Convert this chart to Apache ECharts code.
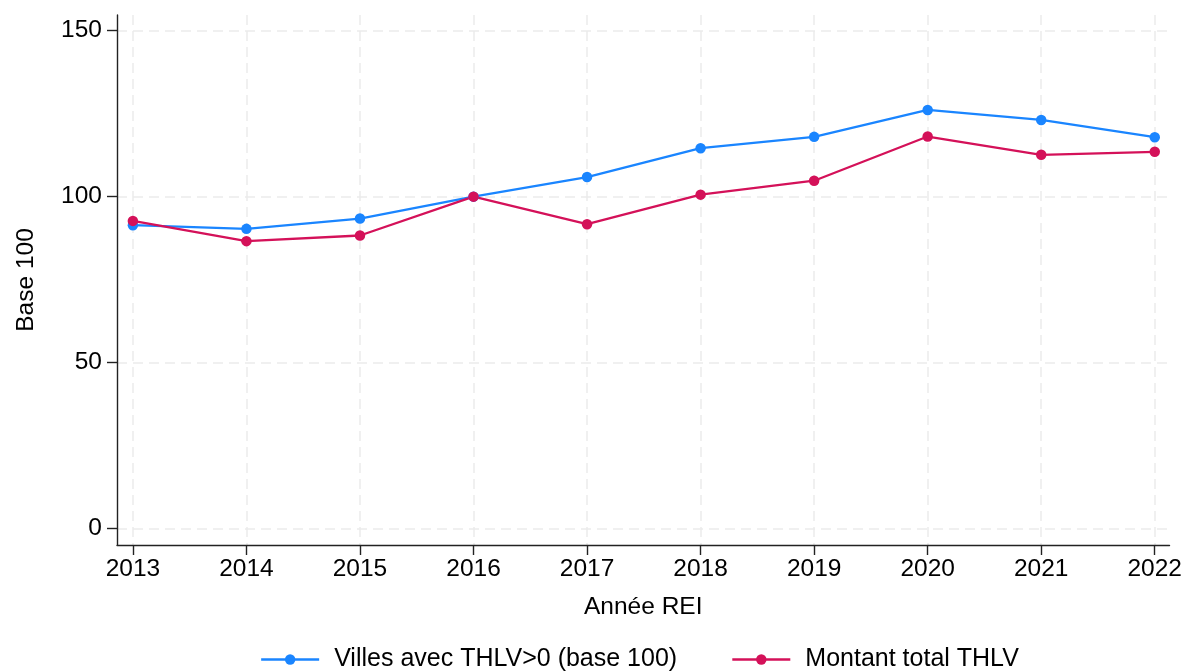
<!DOCTYPE html>
<html>
<head>
<meta charset="utf-8">
<script src="https://cdn.jsdelivr.net/npm/echarts@6/dist/echarts.min.js"></script>
<style>
  html, body { margin: 0; padding: 0; background: #fff; }
  #chart { width: 1185px; height: 672px; }
</style>
</head>
<body>
<div id="chart"></div>
<script>
// données
const years = [2013, 2014, 2015, 2016, 2017, 2018, 2019, 2020, 2021, 2022];
const villes = [91.4, 90.3, 93.4, 100, 105.9, 114.6, 118.0, 126.1, 123.1, 117.9];
const montant = [92.7, 86.6, 88.3, 100, 91.7, 100.6, 104.8, 118.1, 112.6, 113.5];
const yTicks = [0, 50, 100, 150];

const blue = '#1a85ff';
const red = '#d41159';
const font = 'Liberation Sans, Arial, sans-serif';

const gridLine = {
  show: true,
  lineStyle: { color: '#ebebeb', width: 1.5, type: [10, 6] },
};

const chart = echarts.init(document.getElementById('chart'));
chart.setOption({
  animation: false,
  textStyle: { fontFamily: font },
  grid: { left: 117, right: 15, top: 15, bottom: 127, containLabel: false },
  xAxis: {
    type: 'value',
    min: 2012.86,
    max: 2022.13,
    name: 'Année REI',
    nameLocation: 'middle',
    nameGap: 50,
    nameTextStyle: { fontSize: 24.5, color: '#000', fontFamily: font },
    axisLine: { show: true, onZero: false, lineStyle: { color: '#222', width: 1.4 } },
    axisTick: { show: true, length: 10, customValues: years, lineStyle: { color: '#222', width: 1.4 } },
    axisLabel: {
      customValues: years,
      fontSize: 24.5,
      color: '#000',
      margin: 12,
      fontFamily: font,
      formatter: (v) => String(v),
    },
    splitLine: gridLine,
  },
  yAxis: {
    type: 'value',
    min: -4.9,
    max: 154.7,
    name: 'Base 100',
    nameLocation: 'middle',
    nameGap: 78,
    nameTextStyle: { fontSize: 24.5, color: '#000', fontFamily: font },
    axisLine: { show: true, onZero: false, lineStyle: { color: '#222', width: 1.4 } },
    axisTick: { show: true, length: 10, customValues: yTicks, lineStyle: { color: '#222', width: 1.4 } },
    axisLabel: {
      customValues: yTicks,
      fontSize: 24.5,
      color: '#000',
      margin: 15,
      fontFamily: font,
    },
    splitLine: gridLine,
  },
  legend: {
    top: 642,
    left: 255,
    itemWidth: 58,
    itemHeight: 13,
    itemGap: 54,
    lineStyle: { width: 2.3 },
    textStyle: { fontSize: 25, color: '#000', fontFamily: font, padding: [0, 0, 0, 10] },
    data: ['Villes avec THLV>0 (base 100)', 'Montant total THLV'],
  },
  series: [
    {
      name: 'Villes avec THLV>0 (base 100)',
      type: 'line',
      symbol: 'circle',
      symbolSize: 10.5,
      color: blue,
      lineStyle: { color: blue, width: 2.3 },
      data: years.map((y, i) => [y, villes[i]]),
    },
    {
      name: 'Montant total THLV',
      type: 'line',
      symbol: 'circle',
      symbolSize: 10.5,
      color: red,
      lineStyle: { color: red, width: 2.3 },
      data: years.map((y, i) => [y, montant[i]]),
    },
  ],
});
</script>
</body>
</html>
